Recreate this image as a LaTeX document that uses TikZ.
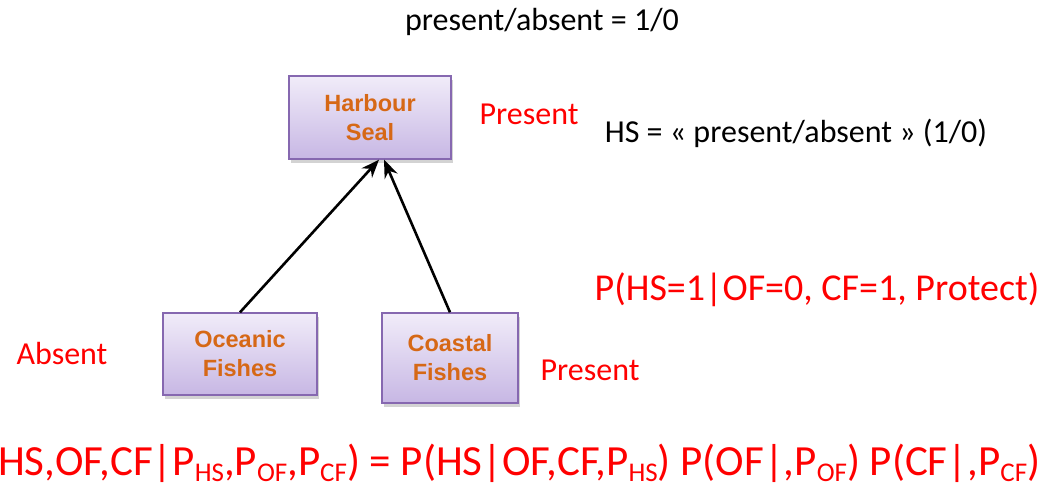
\documentclass[tikz,border=0pt]{standalone}
\usepackage{fontspec}
\setmainfont{Carlito}
\newfontfamily\boxfont{Liberation Sans}
\usetikzlibrary{arrows.meta,shadows,positioning}

\definecolor{boxtop}{RGB}{241,236,249}
\definecolor{boxbot}{RGB}{199,183,228}
\definecolor{boxline}{RGB}{134,104,176}
\definecolor{sealtxt}{RGB}{214,104,22}

% lowered small text for the parameter names
\newcommand{\lo}[1]{\raisebox{-6pt}{\fontsize{27}{27}\selectfont #1}}

\begin{document}
\begin{tikzpicture}[x=1pt, y=-1pt,
  species/.style={draw=boxline, line width=1.4pt, top color=boxtop, bottom color=boxbot,
    drop shadow={opacity=.35, shadow xshift=2pt, shadow yshift=-4pt},
    align=center, font=\boxfont\bfseries\fontsize{23.5}{29}\selectfont, text=sealtxt},
  lbl/.style={font=\fontsize{32}{36}\selectfont},
  red/.style={text=red},
  dep/.style={line width=2.6pt, -{Stealth[length=18pt, width=14pt]}}]
\useasboundingbox (0,0) rectangle (1057,497);
\node[species, minimum width=162pt, minimum height=83pt] (HS) at (370,117.5) {Harbour\\Seal};
\node[species, minimum width=154pt, minimum height=82pt] (OF) at (240,354) {Oceanic\\Fishes};
\node[species, minimum width=136pt, minimum height=90pt] (CF) at (450,358) {Coastal\\Fishes};
\draw[dep] (OF.north) -- ([xshift=9pt]HS.south);
\draw[dep] (CF.north) -- ([xshift=14pt]HS.south);
% states and legends
\node[lbl] (key) at (542,22) {present/absent = 1/0};
\node[lbl, red] (hsstate) at (529,114) {Present};
\node[lbl] (hsdef) at (796,133) {HS = « present/absent » (1/0)};
\node[lbl, red] (ofstate) at (62,354) {Absent};
\node[lbl, red] (cfstate) at (590,370) {Present};
\node[red, font=\fontsize{38}{42}\selectfont] (query) at (817,290) {P(HS=1|OF=0, CF=1, Protect)};
\node[red, font=\fontsize{43}{47}\selectfont, anchor=west, inner sep=0pt] (joint) at (-2,463)
  {HS,OF,CF|P\lo{HS},P\lo{OF},P\lo{CF}) = P(HS|OF,CF,P\lo{HS}) P(OF|,P\lo{OF}) P(CF|,P\lo{CF})};
\end{tikzpicture}
\end{document}
